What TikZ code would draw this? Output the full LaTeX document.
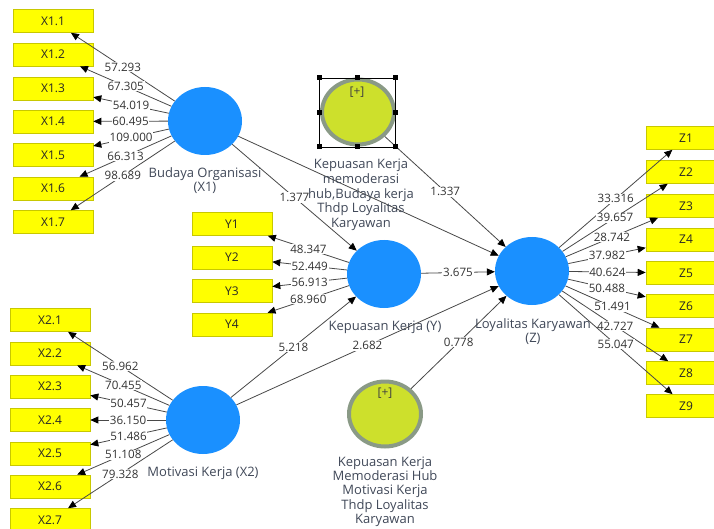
\documentclass[tikz,border=0pt]{standalone}
\usepackage{fontspec}
\setmainfont{Open Sans}
\usetikzlibrary{arrows.meta,shapes.geometric}
\definecolor{lvblue}{HTML}{1A90FF}
\definecolor{indfill}{HTML}{FFFF00}
\definecolor{inddraw}{HTML}{C8C800}
\definecolor{modfill}{HTML}{CDE02C}
\definecolor{moddraw}{HTML}{8A9A86}
\definecolor{linec}{HTML}{484848}
\definecolor{txt}{HTML}{333333}
\definecolor{lvtxt}{HTML}{404858}
\begin{document}
\begin{tikzpicture}[x=1pt,y=-1pt,
  ind/.style={rectangle,fill=indfill,draw=inddraw,line width=0.6pt,minimum width=80pt,minimum height=23pt,inner sep=0pt,font=\fontsize{12}{13}\selectfont,text=black!85},
  lv/.style={ellipse,fill=lvblue,minimum width=74pt,minimum height=68pt,inner sep=0pt},
  mod/.style={ellipse,fill=modfill,draw=moddraw,line width=4pt,minimum width=72pt,minimum height=65pt,inner sep=0pt},
  ld/.style={draw=linec,line width=0.8pt,-{Triangle[length=8pt,width=7pt,color=black]}},
  lbl/.style={fill=white,inner sep=0.8pt,font=\fontsize{11.6}{13}\selectfont,text=txt},
  lvlabel/.style={align=center,anchor=north,inner sep=0pt,font=\fontsize{13}{14.7}\selectfont,text=lvtxt},
  handle/.style={rectangle,fill=black,minimum size=5pt,inner sep=0pt}]
\useasboundingbox (0,0) rectangle (714,529);
\clip (0,0) rectangle (714,529);

% latent variables
\node[lv] (X1) at (205,121) {};
\node[lv] (Y) at (384,274) {};
\node[lv] (Z) at (532,271) {};
\node[lv] (X2) at (203,420) {};
\node[mod] (M1) at (358,112) {};
\node[mod] (M2) at (385,414) {};

% indicators
\foreach \i/\y in {1/21,2/54.5,3/88.5,4/121.5,5/155,6/188.5,7/222}
  \node[ind] (x1\i) at (53,\y) {X1.\i};
\foreach \i/\y in {1/320,2/353.5,3/386.5,4/420,5/453.5,6/486.5,7/520}
  \node[ind] (x2\i) at (50,\y) {X2.\i};
\foreach \i/\y in {1/224,2/257.5,3/291,4/324.5}
  \node[ind] (y\i) at (232,\y) {Y\i};
\foreach \i/\y in {1/138,2/172,3/206,4/239.5,5/273,6/306,7/339.5,8/373,9/406}
  \node[ind] (z\i) at (686,\y) {Z\i};

% structural paths
\draw[ld] (X1) -- (Z);
\draw[ld] (X1) -- node[lbl]{1.377} (Y);
\draw[ld] (M1) -- node[lbl]{1.337} (Z);
\draw[ld] (Y) -- node[lbl]{3.675} (Z);
\draw[ld] (X2) -- node[lbl]{5.218} (Y);
\draw[ld] (X2) -- node[lbl]{2.682} (Z);
\draw[ld] (M2) -- node[lbl]{0.778} (Z);

% outer loadings
\foreach \i/\v in {1/57.293,2/67.305,3/54.019,4/60.495,5/109.000,6/66.313,7/98.689}
  \draw[ld] (X1) -- node[lbl]{\v} (x1\i);
\foreach \i/\v in {1/56.962,2/70.455,3/50.457,4/36.150,5/51.486,6/51.108,7/79.328}
  \draw[ld] (X2) -- node[lbl]{\v} (x2\i);
\foreach \i/\v in {1/48.347,2/52.449,3/56.913,4/68.960}
  \draw[ld] (Y) -- node[lbl]{\v} (y\i);
\foreach \i/\v in {1/33.316,2/39.657,3/28.742,4/37.982,5/40.624,6/50.488,7/51.491,8/42.727,9/55.047}
  \draw[ld] (Z) -- node[lbl]{\v} (z\i);

% plus signs in moderators
\node[font=\fontsize{12}{13}\selectfont,text=black!75] (p1) at (357,92) {[+]};
\node[font=\fontsize{12}{13}\selectfont,text=black!75] (p2) at (385,393) {[+]};

% selection frame around moderator 1
\draw[black,line width=0.6pt] (319,78) rectangle (395,147);
\foreach \hx/\hy [count=\k] in {319/78,357/78,395/78,319/112.5,395/112.5,319/147,357/147,395/147}
  \node[handle] (h\k) at (\hx,\hy) {};

% latent labels
\node[lvlabel] (lX1) at (205,167) {Budaya Organisasi\\(X1)};
\node[lvlabel] (lY) at (385,321) {Kepuasan Kerja (Y)};
\node[lvlabel] (lZ) at (533,318) {Loyalitas Karyawan\\(Z)};
\node[lvlabel] (lX2) at (203,467) {Motivasi Kerja (X2)};
\node[lvlabel] (lM1) at (361,159) {Kepuasan Kerja\\memoderasi\\hub,Budaya kerja\\Thdp Loyalitas\\Karyawan};
\node[lvlabel,font=\fontsize{13}{14.1}\selectfont] (lM2) at (385,457) {Kepuasan Kerja\\Memoderasi Hub\\Motivasi Kerja\\Thdp Loyalitas\\Karyawan};
\end{tikzpicture}
\end{document}
